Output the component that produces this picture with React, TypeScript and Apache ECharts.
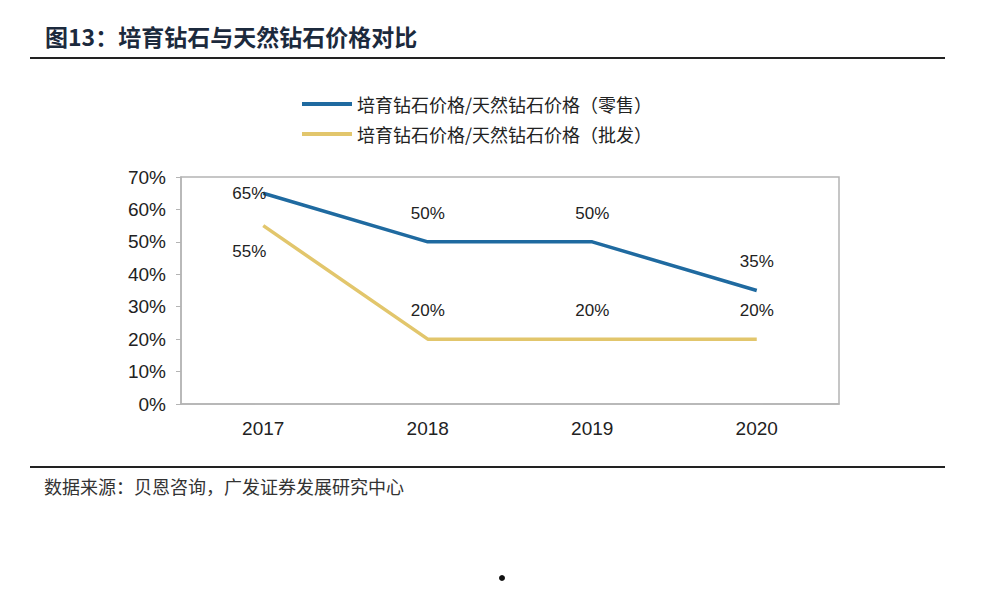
import React, { useEffect, useRef } from "react";
import * as echarts from "echarts";

const years = ["2017", "2018", "2019", "2020"];
const retailRatio = [65, 50, 50, 35];
const wholesaleRatio = [55, 20, 20, 20];
const seriesNames = [
  "培育钻石价格/天然钻石价格（零售）",
  "培育钻石价格/天然钻石价格（批发）",
];
const titleText = "图13：培育钻石与天然钻石价格对比";
const sourceText = "数据来源：贝恩咨询，广发证券发展研究中心";

export default function App() {
  const ref = useRef<HTMLDivElement>(null);
  useEffect(() => {
    if (!ref.current) return;
    const chart = echarts.init(ref.current, undefined, { renderer: "svg" });
    const labelFont = { fontFamily: "Liberation Sans, Arial", fontSize: 17, color: "#222" };
    chart.setOption({
      animation: false,
      backgroundColor: "#fff",
      grid: {
        left: 181,
        right: 161,
        top: 177,
        bottom: 186,
        show: true,
        borderColor: "#b4b4b4",
        borderWidth: 1.5,
      },
      legend: {
        orient: "vertical",
        left: 297,
        top: 90,
        itemWidth: 50,
        itemHeight: 4,
        itemGap: 12,
        icon: "rect",
        textStyle: {
          fontFamily: "Noto Sans CJK SC",
          fontSize: 18,
          color: "#222",
        },
        data: seriesNames,
      },
      xAxis: {
        type: "category",
        data: years,
        boundaryGap: true,
        axisLine: { show: true, lineStyle: { color: "#b4b4b4", width: 1.5 } },
        axisTick: { show: false },
        axisLabel: { ...labelFont, fontSize: 19, margin: 15 },
      },
      yAxis: {
        type: "value",
        min: 0,
        max: 70,
        interval: 10,
        splitLine: { show: false },
        axisLine: { show: true, lineStyle: { color: "#b4b4b4", width: 1.5 } },
        axisTick: { show: true, length: 5, lineStyle: { color: "#b4b4b4" } },
        axisLabel: { ...labelFont, fontSize: 19, margin: 15, formatter: "{value}%" },
      },
      series: [
        {
          name: seriesNames[0],
          type: "line",
          data: retailRatio.map((v, i) =>
            i === 0
              ? { value: v, label: { position: "inside", offset: [-14, 0] } }
              : v
          ),
          symbol: "circle",
          symbolSize: 0.1,
          showSymbol: true,
          lineStyle: { color: "#1f6aa0", width: 3.5 },
          itemStyle: { color: "#1f6aa0" },
          label: {
            show: true,
            position: "top",
            distance: 20,
            formatter: "{c}%",
            ...labelFont,
          },
          z: 3,
        },
        {
          name: seriesNames[1],
          type: "line",
          data: wholesaleRatio.map((v, i) =>
            i === 0
              ? { value: v, label: { position: "bottom", distance: 17, offset: [-14, 0] } }
              : v
          ),
          symbol: "circle",
          symbolSize: 0.1,
          showSymbol: true,
          lineStyle: { color: "#e2c66c", width: 3.5 },
          itemStyle: { color: "#e2c66c" },
          label: {
            show: true,
            position: "top",
            distance: 20,
            formatter: "{c}%",
            ...labelFont,
          },
          z: 2,
        },
      ],
      graphic: [
        {
          type: "text",
          left: 45,
          top: 24,
          style: {
            text: titleText,
            fontFamily: "Noto Sans CJK SC",
            fontWeight: "bold",
            fontSize: 23,
            fill: "#1c2a3d",
          },
        },
        {
          type: "line",
          shape: { x1: 30, y1: 58, x2: 945, y2: 58 },
          style: { stroke: "#222", lineWidth: 2 },
        },
        {
          type: "line",
          shape: { x1: 30, y1: 467, x2: 945, y2: 467 },
          style: { stroke: "#222", lineWidth: 2 },
        },
        {
          type: "text",
          left: 44,
          top: 477,
          style: {
            text: sourceText,
            fontFamily: "Noto Sans CJK SC",
            fontSize: 18,
            fill: "#333",
          },
        },
        {
          type: "circle",
          shape: { cx: 502, cy: 578, r: 3 },
          style: { fill: "#111" },
        },
      ],
    });
    return () => chart.dispose();
  }, []);
  return (
    <div
      ref={ref}
      style={{ width: 1000, height: 590, position: "absolute", left: 0, top: 0 }}
    />
  );
}
